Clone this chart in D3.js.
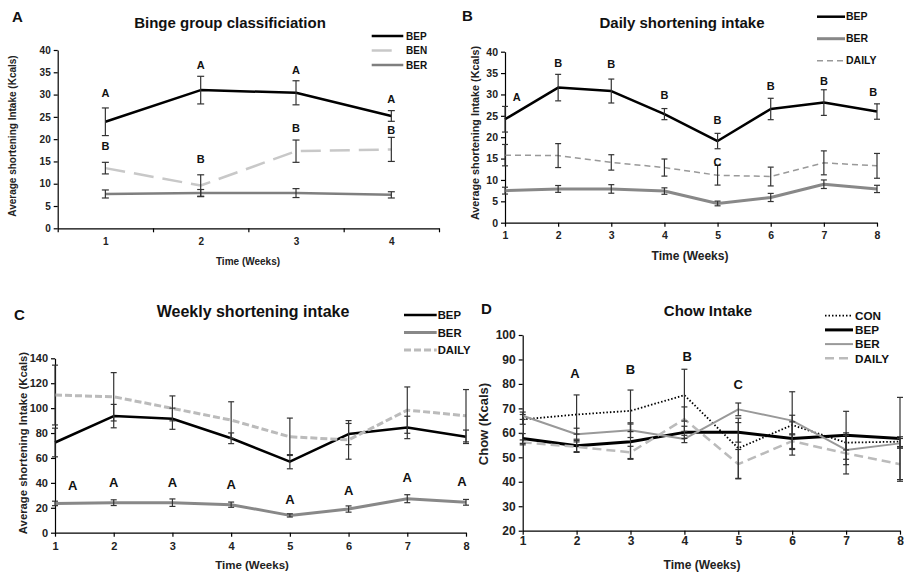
<!DOCTYPE html>
<html lang="en">
<head>
<meta charset="UTF-8">
<title>Shortening and chow intake</title>
<script src="https://d3js.org/d3.v7.min.js"></script>
<style>
    body { margin: 0; background: #ffffff; }
    svg { display: block; font-family: "Liberation Sans", Arial, sans-serif; font-weight: bold; }
    .axis path, .axis line { stroke: #000; stroke-width: 1.2; }
    .axis text { font-weight: bold; fill: #222; font-family: "Liberation Sans", Arial, sans-serif; }
</style>
</head>
<body>
<svg id="fig" width="904" height="575"></svg>
<script>
// ---------- data ----------
const weeksA = [1, 2, 3, 4];
const weeks = [1, 2, 3, 4, 5, 6, 7, 8];

// A: binge group classification
const aBEP = [23.9, 31.0, 30.4, 25.2];
const aBEPerr = [3.1, 3.1, 2.7, 1.2];
const aBEN = [13.5, 9.6, 17.3, 17.7];
const aBENerr = [1.3, 2.4, 2.5, 2.7];
const aBER = [7.7, 7.9, 7.9, 7.5];
const aBERerr = [0.9, 0.8, 1.0, 0.7];
const aLetters = [[1, 30.4, "A"], [2, 36.6, "A"], [3, 35.4, "A"], [4, 28.9, "A"],
                  [1, 18.5, "B"], [2, 15.5, "B"], [3, 22.4, "B"], [4, 22.0, "B"]];

// B: daily shortening intake
const bBEP = [24.2, 31.6, 30.8, 25.4, 19.1, 26.6, 28.1, 26.0];
const bBEPerr = [3.0, 3.1, 2.8, 1.3, 1.8, 2.5, 3.0, 1.8];
const bBER = [7.5, 7.9, 7.9, 7.4, 4.5, 5.9, 9.0, 7.9];
const bBERerr = [0.8, 0.8, 1.0, 0.75, 0.55, 0.95, 1.0, 0.85];
const bDAILY = [15.8, 15.7, 14.1, 12.9, 11.1, 10.8, 14.0, 13.3];
const bDAILYerr = [2.5, 2.8, 1.8, 2.0, 2.3, 2.2, 2.8, 2.9];
const bLetters = [[1.22, 29.5, "A"], [2, 37.4, "B"], [3, 37.1, "B"], [4, 29.9, "B"], [5, 24.0, "B"],
                  [5, 14.3, "C"], [6, 32.0, "B"], [7, 33.2, "B"], [7.93, 30.6, "B"]];

// C: weekly shortening intake
const cBEP = [72.4, 93.6, 91.5, 75.8, 57.0, 79.2, 84.5, 77.0];
const cBEPerr = [11.5, 9.4, 8.5, 4.3, 5.7, 8.5, 9.0, 5.4];
const cBER = [23.5, 24.1, 24.1, 22.5, 13.9, 19.0, 27.3, 24.4];
const cBERerr = [1.8, 2.3, 3.0, 2.1, 1.3, 2.5, 3.2, 2.3];
const cDAILY = [110.5, 109.1, 99.8, 90.4, 77.0, 74.5, 98.4, 93.9];
const cDAILYerr = [24.0, 19.4, 10.0, 14.7, 15.0, 15.5, 18.6, 21.0];
const cLetters = [[1.3, 38.3, "A"], [2, 40.1, "A"], [3, 40.1, "A"], [4, 38.8, "A"],
                  [5, 26.8, "A"], [6, 33.7, "A"], [7, 44.4, "A"], [7.93, 40.9, "A"]];

// D: chow intake
const dCON = [65.5, 67.5, 69.0, 75.4, 53.7, 63.2, 56.0, 56.4];
const dCONerr = [2.0, 8.0, 8.5, 10.6, 12.3, 4.0, 3.0, 2.0];
const dBEP = [57.7, 54.7, 56.4, 60.2, 60.2, 57.7, 59.0, 57.7];
const dBEPerr = [2.0, 2.7, 7.2, 2.5, 4.0, 6.8, 9.8, 16.8];
const dBER = [67.0, 59.4, 61.1, 57.5, 69.6, 65.0, 53.0, 55.7];
const dBERerr = [1.5, 2.5, 3.0, 1.5, 2.6, 11.8, 6.0, 2.0];
const dDAILY = [56.1, 54.3, 52.0, 65.6, 47.2, 56.6, 51.6, 47.2];
const dDAILYerr = [1.0, 2.0, 2.5, 5.0, 6.0, 3.0, 8.4, 7.0];
const dLetters = [[1.97, 84.3, "A"], [3, 85.9, "B"], [4.05, 91.4, "B"], [5, 79.8, "C"]];

const ticksA = d3.range(0, 41, 5);
const ticksB = d3.range(0, 41, 5);
const ticksC = d3.range(0, 141, 20);
const ticksD = d3.range(20, 101, 10);

// ---------- drawing ----------
const svg = d3.select("#fig");

function drawPanel(p) {
    const g = svg.append("g");
    const x = d3.scaleLinear().domain(p.xDomain).range([p.left, p.right]);
    const y = d3.scaleLinear().domain(p.yDomain).range([p.bottom, p.top]);

    // y axis
    const ya = g.append("g").attr("class", "axis")
        .attr("transform", `translate(${p.left},0)`)
        .call(d3.axisLeft(y).tickValues(p.yTicks).tickSize(4).tickPadding(3).tickSizeOuter(0));
    ya.selectAll("text").style("font-size", p.tickFont + "px");

    // x axis
    if (p.category) {
        const edges = d3.range(p.xDomain[0], p.xDomain[1] + 0.01, 1);
        g.append("g").attr("class", "axis")
            .attr("transform", `translate(0,${p.bottom})`)
            .call(d3.axisBottom(x).tickValues(edges).tickSize(4).tickFormat("").tickSizeOuter(0));
        const lab = g.append("g").attr("class", "axis")
            .attr("transform", `translate(0,${p.bottom})`)
            .call(d3.axisBottom(x).tickValues(p.weeks).tickSize(0).tickPadding(p.xPad).tickFormat(d3.format("d")));
        lab.select("path").remove();
        lab.selectAll("text").style("font-size", p.tickFont + "px");
    } else {
        const xa = g.append("g").attr("class", "axis")
            .attr("transform", `translate(0,${p.bottom})`)
            .call(d3.axisBottom(x).tickValues(p.weeks).tickSize(4).tickPadding(p.xPad)
                .tickFormat(d3.format("d")).tickSizeOuter(0));
        xa.selectAll("text").style("font-size", p.tickFont + "px");
    }

    // series lines
    const line = vals => d3.line().x((d, i) => x(p.weeks[i])).y(d => y(d))(vals);
    p.series.forEach(s => {
        g.append("path")
            .attr("d", line(s.values))
            .attr("fill", "none")
            .attr("stroke", s.color)
            .attr("stroke-width", s.width)
            .attr("stroke-dasharray", s.dash || null)
            .attr("stroke-linejoin", "round");
    });

    // error bars
    const cap = p.cap;
    p.series.forEach(s => {
        s.values.forEach((v, i) => {
            const cx = x(p.weeks[i]);
            const y1 = y(v + s.err[i]), y2 = y(v - s.err[i]);
            const eb = g.append("g").attr("stroke", "#333").attr("stroke-width", 1.2);
            eb.append("line").attr("x1", cx).attr("x2", cx).attr("y1", y1).attr("y2", y2);
            eb.append("line").attr("x1", cx - cap).attr("x2", cx + cap).attr("y1", y1).attr("y2", y1);
            eb.append("line").attr("x1", cx - cap).attr("x2", cx + cap).attr("y1", y2).attr("y2", y2);
        });
    });

    // significance letters
    g.selectAll("text.letter").data(p.letters).enter().append("text")
        .attr("class", "letter")
        .attr("x", d => x(d[0]))
        .attr("y", d => y(d[1]))
        .attr("dy", "0.36em")
        .attr("text-anchor", "middle")
        .style("font-size", p.letterFont + "px")
        .attr("fill", "#111")
        .text(d => d[2]);

    // legend
    p.series.forEach((s, i) => {
        const ly = p.legend.y + i * p.legend.step;
        g.append("line")
            .attr("x1", p.legend.x1).attr("x2", s.legendEnd || p.legend.x2)
            .attr("y1", ly).attr("y2", ly)
            .attr("stroke", s.color).attr("stroke-width", s.width)
            .attr("stroke-dasharray", s.dash || null);
        g.append("text")
            .attr("x", p.legend.tx).attr("y", ly).attr("dy", "0.36em")
            .style("font-size", p.legend.font + "px").attr("fill", "#111")
            .text(s.name);
    });

    // titles
    g.append("text").attr("x", p.titleX).attr("y", p.titleY)
        .attr("text-anchor", "middle").style("font-size", p.titleFont + "px").attr("fill", "#111")
        .text(p.title);
    g.append("text").attr("x", p.tagX).attr("y", p.tagY)
        .style("font-size", "15px").attr("fill", "#111").text(p.tag);
    g.append("text").attr("x", p.xTitleX).attr("y", p.xTitleY)
        .attr("text-anchor", "middle").style("font-size", p.xTitleFont + "px").attr("fill", "#222")
        .text("Time (Weeks)");
    g.append("text")
        .attr("transform", `translate(${p.yTitleX},${p.yTitleY}) rotate(-90)`)
        .attr("text-anchor", "middle").style("font-size", p.yTitleFont + "px").attr("fill", "#222")
        .text(p.yTitle);
}

drawPanel({
    tag: "A", tagX: 12, tagY: 22,
    title: "Binge group classificiation", titleX: 230, titleY: 28, titleFont: 15,
    left: 57.7, right: 439, top: 50, bottom: 228.3,
    xDomain: [0.5, 4.5], yDomain: [0, 40], yTicks: ticksA, weeks: weeksA, category: true,
    tickFont: 10, xPad: 10, cap: 3.5, letterFont: 11,
    xTitleX: 248, xTitleY: 265, xTitleFont: 10,
    yTitle: "Average shortening Intake (Kcals)", yTitleX: 16.3, yTitleY: 136, yTitleFont: 10,
    letters: aLetters,
    legend: { x1: 371.7, x2: 403.3, tx: 406, y: 36, step: 14.5, font: 10 },
    series: [
        { name: "BEP", values: aBEP, err: aBEPerr, color: "#000", width: 2.5 },
        { name: "BEN", values: aBEN, err: aBENerr, color: "#c8c8c8", width: 2.5, dash: "20,9", legendEnd: 393 },
        { name: "BER", values: aBER, err: aBERerr, color: "#7f7f7f", width: 2.5 }
    ]
});

drawPanel({
    tag: "B", tagX: 462, tagY: 20.5,
    title: "Daily shortening intake", titleX: 682, titleY: 28, titleFont: 15,
    left: 505, right: 877, top: 51.7, bottom: 222.7,
    xDomain: [1, 8], yDomain: [0, 40], yTicks: ticksB, weeks: weeks, category: false,
    tickFont: 10.5, xPad: 5, cap: 3, letterFont: 11,
    xTitleX: 690, xTitleY: 259.5, xTitleFont: 12,
    yTitle: "Average shortening Intake (Kcals)", yTitleX: 479, yTitleY: 133, yTitleFont: 10.8,
    letters: bLetters,
    legend: { x1: 817, x2: 845, tx: 846, y: 16.7, step: 22, font: 10.5 },
    series: [
        { name: "BEP", values: bBEP, err: bBEPerr, color: "#000", width: 2.5 },
        { name: "BER", values: bBER, err: bBERerr, color: "#888", width: 3 },
        { name: "DAILY", values: bDAILY, err: bDAILYerr, color: "#999", width: 1.5, dash: "6,4" }
    ]
});

drawPanel({
    tag: "C", tagX: 14, tagY: 320,
    title: "Weekly shortening intake", titleX: 253, titleY: 316.5, titleFont: 16,
    left: 55, right: 466, top: 358.3, bottom: 532.7,
    xDomain: [1, 8], yDomain: [0, 140], yTicks: ticksC, weeks: weeks, category: false,
    tickFont: 11, xPad: 6, cap: 3, letterFont: 13,
    xTitleX: 252, xTitleY: 569, xTitleFont: 11.5,
    yTitle: "Average shortening Intake (Kcals)", yTitleX: 27, yTitleY: 443, yTitleFont: 11.3,
    letters: cLetters,
    legend: { x1: 404, x2: 436.7, tx: 437.7, y: 315, step: 17.5, font: 11.3 },
    series: [
        { name: "BEP", values: cBEP, err: cBEPerr, color: "#000", width: 2.5 },
        { name: "BER", values: cBER, err: cBERerr, color: "#888", width: 3 },
        { name: "DAILY", values: cDAILY, err: cDAILYerr, color: "#bbb", width: 3, dash: "7,3" }
    ]
});

drawPanel({
    tag: "D", tagX: 481, tagY: 313.5,
    title: "Chow Intake", titleX: 708, titleY: 316, titleFont: 15,
    left: 522.7, right: 900, top: 335, bottom: 530.7,
    xDomain: [1, 8], yDomain: [20, 100], yTicks: ticksD, weeks: weeks, category: false,
    tickFont: 12, xPad: 2, cap: 3, letterFont: 13,
    xTitleX: 702, xTitleY: 569, xTitleFont: 12,
    yTitle: "Chow (Kcals)", yTitleX: 488, yTitleY: 424, yTitleFont: 13,
    letters: dLetters,
    legend: { x1: 825, x2: 853, tx: 855, y: 315.7, step: 14.2, font: 11.7 },
    series: [
        { name: "CON", values: dCON, err: dCONerr, color: "#000", width: 1.8, dash: "1.5,2" },
        { name: "BEP", values: dBEP, err: dBEPerr, color: "#000", width: 3 },
        { name: "BER", values: dBER, err: dBERerr, color: "#999", width: 2 },
        { name: "DAILY", values: dDAILY, err: dDAILYerr, color: "#bbb", width: 2.5, dash: "9,5" }
    ]
});
</script>
</body>
</html>
